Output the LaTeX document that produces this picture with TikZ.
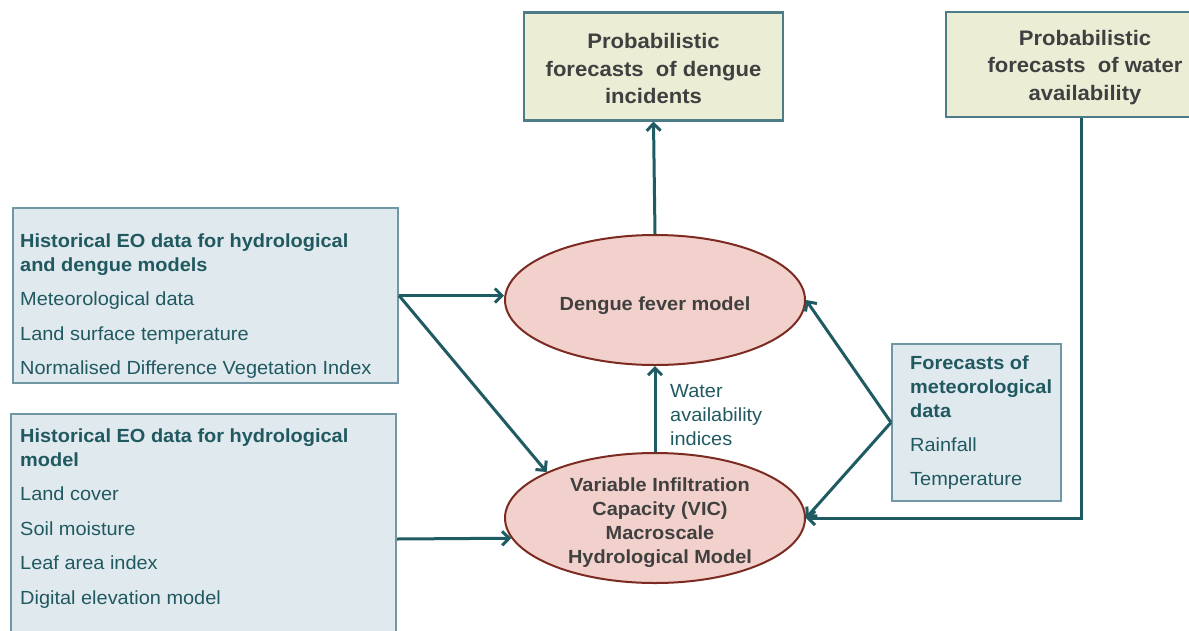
\documentclass[tikz,border=0pt]{standalone}
\usepackage{fontspec}
\setmainfont[FakeStretch=1.05]{Liberation Sans}
\usetikzlibrary{arrows.meta,shapes.geometric}

\definecolor{linkteal}{HTML}{1F5B63}
\definecolor{outedge}{HTML}{4D7B88}
\definecolor{inedge}{HTML}{7097A3}
\definecolor{outfill}{HTML}{EBEDD5}
\definecolor{infill}{HTML}{DFE9EE}
\definecolor{ellfill}{HTML}{F2D0CB}
\definecolor{elledge}{HTML}{7B2B22}
\definecolor{greytext}{HTML}{404040}
\definecolor{tealtext}{HTML}{215960}

\tikzset{
  outbox/.style={draw=outedge, line width=2.2pt, fill=outfill, inner sep=0pt},
  outtext/.style={inner sep=0pt, text=greytext, align=center,
    font=\fontsize{21}{27.5}\selectfont\bfseries},
  inbox/.style={draw=inedge, line width=2pt, fill=infill, inner sep=0pt, anchor=north west},
  boxtext/.style={anchor=north west, inner sep=0pt, align=left, text=tealtext,
    font=\fontsize{19}{24}\selectfont},
  model/.style={ellipse, draw=elledge, line width=2pt, fill=ellfill, inner sep=0pt,
    minimum width=300pt, minimum height=130pt},
  modeltext/.style={inner sep=0pt, text=greytext, align=center,
    font=\fontsize{19}{24}\selectfont\bfseries},
  link/.style={draw=linkteal, line width=3pt,
    -{Straight Barb[length=7pt,width=14pt,line width=3pt]}},
}

\begin{document}
\begin{tikzpicture}[x=1pt,y=-1pt]
\clip (0,0) rectangle (1189,630);

% outputs
\node[outbox, minimum width=259pt, minimum height=108pt] (fcDengue) at (653.5,66.5) {};
\node[outtext] (fcDengueTxt) at (653.5,68.5)
  {Probabilistic\\forecasts\ \ of dengue\\incidents};
\node[outbox, minimum width=270pt, minimum height=105pt] (fcWater) at (1081,64.5) {};
\node[outtext] (fcWaterTxt) at (1085,67.5)
  {Probabilistic\\forecasts\ \ of water\\availability};

% historical EO inputs
\node[inbox, minimum width=385pt, minimum height=175pt] (hist1) at (12,207) {};
\node[boxtext] (hist1txt) at (20,234)
  {\textbf{Historical EO data for hydrological}\\
   \textbf{and dengue models}\\[10pt]
   Meteorological data\\[10.5pt]
   Land surface temperature\\[10.5pt]
   Normalised Difference Vegetation Index};

\node[inbox, minimum width=385pt, minimum height=250pt] (hist2) at (10,413) {};
\node[boxtext] (hist2txt) at (20,429)
  {\textbf{Historical EO data for hydrological}\\
   \textbf{model}\\[10pt]
   Land cover\\[10.5pt]
   Soil moisture\\[10.5pt]
   Leaf area index\\[10.5pt]
   Digital elevation model};

% meteorological forecasts
\node[inbox, minimum width=169pt, minimum height=157pt] (metbox) at (891,343) {};
\node[boxtext] (mettxt) at (910,355.5)
  {\textbf{Forecasts of}\\
   \textbf{meteorological}\\
   \textbf{data}\\[10pt]
   Rainfall\\[10.5pt]
   Temperature};

% models
\node[model] (dengue) at (655,300) {};
\node[modeltext] (dengueTxt) at (655,306) {Dengue fever model};
\node[model] (vic) at (655,518) {};
\node[modeltext] (vicTxt) at (660,523)
  {Variable Infiltration\\Capacity (VIC)\\Macroscale\\Hydrological Model};

% connectors
\draw[link] (dengue.north) -- (fcDengue.south);
\draw[link] (hist1.east) -- (hist1.east -| dengue.west);
\draw[link] (hist1.east) -- (vic.157);
\draw[link] (hist2.east) -- (vic.188);
\draw[link] (vic.north) -- (dengue.south);
\node[boxtext] (wai) at (670,384) {Water\\availability\\indices};
\draw[link] (metbox.west) -- (dengue.east);
\draw[link] (metbox.west) -- (vic.east);
\draw[link] (fcWater.south) |- (vic.east);
\end{tikzpicture}
\end{document}
